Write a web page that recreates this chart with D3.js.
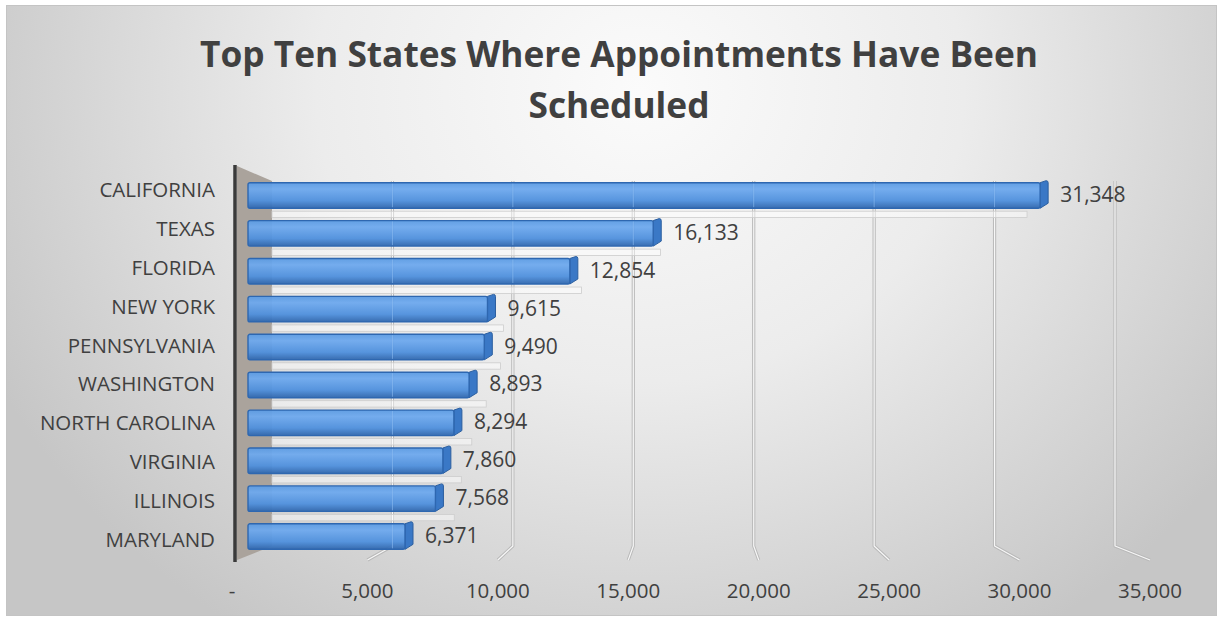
<!DOCTYPE html>
<html>
<head>
<meta charset="utf-8">
<script src="https://cdn.jsdelivr.net/npm/d3@7.9.0/dist/d3.min.js"></script>
<style>
  html, body { margin: 0; padding: 0; background: #fff; }
  svg { display: block; }
  text { font-family: "Open Sans", "DejaVu Sans", sans-serif; fill: #404040; }
</style>
</head>
<body>
<div id="chart"></div>
<script>
const titleLines = ['Top Ten States Where Appointments Have Been', 'Scheduled'];
const states = ['CALIFORNIA', 'TEXAS', 'FLORIDA', 'NEW YORK', 'PENNSYLVANIA',
  'WASHINGTON', 'NORTH CAROLINA', 'VIRGINIA', 'ILLINOIS', 'MARYLAND'];
const appointments = [31348, 16133, 12854, 9615, 9490, 8893, 8294, 7860, 7568, 6371];
const xTicks = [0, 5000, 10000, 15000, 20000, 25000, 30000, 35000];

const width = 1223;
const height = 621;

const svg = d3.select('#chart')
  .append('svg')
  .attr('width', width)
  .attr('height', height);

const defs = svg.append('defs');

// background: soft grey, lighter near the top middle
const bg = defs.append('radialGradient')
  .attr('id', 'bg')
  .attr('gradientUnits', 'userSpaceOnUse')
  .attr('cx', 640).attr('cy', 90).attr('r', 720)
  .attr('gradientTransform', 'translate(640,90) scale(1,0.9) translate(-640,-90)');
bg.append('stop').attr('offset', '0%').attr('stop-color', '#fbfbfb');
bg.append('stop').attr('offset', '45%').attr('stop-color', '#ececec');
bg.append('stop').attr('offset', '100%').attr('stop-color', '#c6c6c6');

const barFill = defs.append('linearGradient')
  .attr('id', 'barFill').attr('x1', 0).attr('y1', 0).attr('x2', 0).attr('y2', 1);
barFill.append('stop').attr('offset', '0%').attr('stop-color', '#5b9be3');
barFill.append('stop').attr('offset', '25%').attr('stop-color', '#6ea9ee');
barFill.append('stop').attr('offset', '70%').attr('stop-color', '#4f90dd');
barFill.append('stop').attr('offset', '100%').attr('stop-color', '#2f66ad');

svg.append('rect')
  .attr('x', 6.5).attr('y', 5.5)
  .attr('width', 1210).attr('height', 610)
  .attr('fill', 'url(#bg)')
  .attr('stroke', '#c4c4c4');

// title
const title = svg.append('g');
title.selectAll('text')
  .data(titleLines)
  .join('text')
  .attr('x', 619)
  .attr('y', (d, i) => 67 + i * 51)
  .attr('text-anchor', 'middle')
  .style('font-weight', 700)
  .style('font-size', '36px')
  .text((d) => d);
// squeeze to the width of the original title
const firstLine = title.select('text').node();
const measured = firstLine.getComputedTextLength();
const fitted = 36 * 838 / measured;
title.selectAll('text').style('font-size', `${fitted}px`);

// perspective: front edge of the floor and back wall
const frontY = 560;
const backY = 546;
const wallTop = 181;
const xFront = d3.scaleLinear().domain([0, 35000]).range([237, 1150]);
const xBack = d3.scaleLinear().domain([0, 35000]).range([272, 1115]);
const xBar = d3.scaleLinear().domain([0, 35000]).range([251, 1141]);

const y = d3.scaleBand()
  .domain(states)
  .range([176, 555])
  .paddingInner(0.3)
  .paddingOuter(0.15);

const yLabel = d3.scalePoint()
  .domain(states)
  .range([190, 540]);

// back wall gridlines and floor lines
const grid = svg.append('g').attr('class', 'gridlines');
const gridPath = (v) => `M${xBack(v)},${wallTop} L${xBack(v)},${backY} L${xFront(v)},${frontY}`;
grid.selectAll('path.outer')
  .data(xTicks.slice(1))
  .join('path')
  .attr('class', 'outer')
  .attr('d', gridPath)
  .attr('fill', 'none')
  .attr('stroke', '#b9b9b9')
  .attr('stroke-width', 3.2)
  .attr('stroke-linejoin', 'round');
grid.selectAll('path.inner')
  .data(xTicks.slice(1))
  .join('path')
  .attr('class', 'inner')
  .attr('d', gridPath)
  .attr('fill', 'none')
  .attr('stroke', '#f7f7f7')
  .attr('stroke-width', 1.2)
  .attr('stroke-linejoin', 'round');

// side wall
svg.append('path')
  .attr('d', `M237,166 L272,${wallTop} L272,${backY} L237,${frontY} Z`)
  .attr('fill', '#aaa39c');
svg.append('line')
  .attr('x1', 235).attr('x2', 235)
  .attr('y1', 165).attr('y2', 562)
  .attr('stroke', '#3a3a3a')
  .attr('stroke-width', 3.5);

// faint strips of the back wall between the bars
const strips = svg.append('g');
strips.selectAll('rect')
  .data(states.slice(0, -1))
  .join('rect')
  .attr('x', 272)
  .attr('y', (d) => y(d) + y.bandwidth() + 3)
  .attr('width', (d, i) => Math.max(0, xBack(appointments[i]) - 272))
  .attr('height', y.step() - y.bandwidth() - 5)
  .attr('fill', '#ffffff')
  .attr('fill-opacity', 0.45)
  .attr('stroke', '#cdcdcd')
  .attr('stroke-width', 0.8);

// bars: front face, right end face, darker bottom edge
const side = 8;
const bars = svg.append('g').attr('class', 'bars')
  .selectAll('g')
  .data(states)
  .join('g')
  .attr('transform', (d) => `translate(0,${y(d)})`);

bars.append('path')
  .attr('d', (d, i) => {
    const x1 = xBar(appointments[i]) - side;
    const h = y.bandwidth();
    return `M${x1},1 L${x1 + side - 2},-1 Q${x1 + side},-1 ${x1 + side},1 L${x1 + side},${h - 5} L${x1},${h} Z`;
  })
  .attr('fill', '#3a78c6')
  .attr('stroke', '#2c5f9f')
  .attr('stroke-width', 1);

bars.append('rect')
  .attr('x', 248)
  .attr('y', 1)
  .attr('rx', 2)
  .attr('width', (d, i) => xBar(appointments[i]) - side - 248)
  .attr('height', y.bandwidth() - 1)
  .attr('fill', 'url(#barFill)')
  .attr('fill-opacity', 0.95)
  .attr('stroke', '#2e67b0')
  .attr('stroke-width', 1.4);

// gridlines showing faintly through the bars
bars.selectAll('line')
  .data((d, i) => xTicks.slice(1).filter((t) => xBack(t) < xBar(appointments[i]) - side - 2))
  .join('line')
  .attr('x1', (t) => xBack(t)).attr('x2', (t) => xBack(t))
  .attr('y1', 2).attr('y2', y.bandwidth() - 1)
  .attr('stroke', '#8dbcf0')
  .attr('stroke-opacity', 0.6);

// value labels
svg.append('g')
  .selectAll('text')
  .data(states)
  .join('text')
  .attr('x', (d, i) => xBar(appointments[i]) + 12)
  .attr('y', (d) => y(d) + y.bandwidth() / 2 + 7)
  .style('font-size', '21px')
  .text((d, i) => d3.format(',')(appointments[i]));

// category labels
svg.append('g')
  .selectAll('text')
  .data(states)
  .join('text')
  .attr('x', 215)
  .attr('y', (d) => yLabel(d) + 7)
  .attr('text-anchor', 'end')
  .style('font-size', '20.5px')
  .text((d) => d);

// x tick labels
svg.append('g')
  .selectAll('text')
  .data(xTicks)
  .join('text')
  .attr('x', (d) => (d === 0 ? 232 : xFront(d)))
  .attr('y', 598)
  .attr('text-anchor', 'middle')
  .style('font-size', '20.5px')
  .text((d) => (d === 0 ? '-' : d3.format(',')(d)));
</script>
</body>
</html>
